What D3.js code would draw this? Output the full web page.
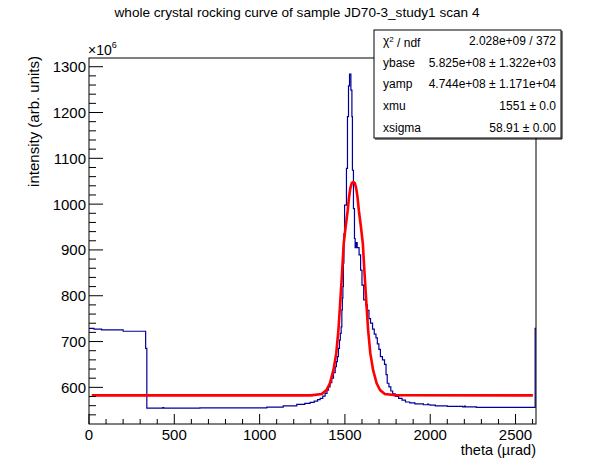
<!DOCTYPE html>
<html>
<meta charset="utf-8">
<head>
    <script src="https://d3js.org/d3.v7.min.js"></script>
    <style>
        body { margin: 0; background: #fff; }
        text { font-family: "Liberation Sans", Arial, Helvetica, sans-serif; }
    </style>
</head>
<body>
    <script>
        // histogram bins: lower edge and content (x1e6)
        var histX = [0, 29, 74, 200, 332, 339, 432, 438, 650, 1042, 1138, 1218, 1265, 1296, 1320, 1340, 1355, 1370,
                     1384, 1395, 1404, 1413, 1423, 1433, 1443, 1450, 1456, 1462, 1468, 1473, 1478, 1482, 1485,
                     1488, 1491, 1494, 1498, 1509, 1515, 1521, 1527, 1535, 1541, 1544, 1550, 1556, 1560, 1566,
                     1572, 1583, 1592, 1600, 1610, 1622, 1632, 1641, 1650, 1662, 1672, 1682, 1690, 1699, 1708,
                     1720, 1732, 1741, 1748, 1758, 1769, 1780, 1795, 1815, 1835, 1855, 1880, 1910, 1960, 1985,
                     1990, 2000, 2030, 2100, 2190, 2200, 2206, 2270, 2615];
        var histY = [728.8, 727, 725.5, 722.5, 685, 554.5, 556, 554.5, 555, 557, 559.5, 563, 565, 567, 570, 573, 576, 581,
                     587, 594, 601, 610, 620, 632, 645, 656, 667, 685, 703, 718, 732, 769, 795,
                     820, 871, 935, 998, 1078, 1191, 1258, 1284, 1249, 1191, 1074, 990, 925, 905, 916,
                     905, 889, 856, 823, 791, 780, 768, 750, 740, 727, 716, 708, 695, 683, 667,
                     660, 650, 628, 609, 601, 592, 586, 580, 576, 572, 568, 566, 564, 562, 563.5,
                     562, 561, 559.5, 558.5, 557.5, 559, 557.5, 556.3, 729];
        var histEnd = 2620;

        // fitted curve
        var fitX = [16, 1300, 1364, 1392, 1412, 1433, 1449, 1462, 1472, 1483, 1493, 1504, 1516, 1524, 1532, 1540,
                    1549, 1558, 1566, 1574, 1582, 1594, 1605, 1615, 1626, 1636, 1649, 1665, 1686, 1706, 1734, 1800, 2602];
        var fitY = [582.5, 582.5, 585.5, 594, 609, 638, 674, 725, 783, 849, 914, 950, 985, 1015, 1035, 1046,
                    1048, 1046, 1035, 1015, 985, 950, 914, 849, 783, 725, 674, 638, 609, 594, 585.5, 582.7, 582.5];

        var yTicks = [600, 700, 800, 900, 1000, 1100, 1200, 1300];
        var xTicks = [0, 500, 1000, 1500, 2000, 2500];

        var statNames = ["χ2 / ndf", "ybase", "yamp", "xmu", "xsigma"];
        var statValues = ["2.028e+09 / 372", "5.825e+08 ± 1.322e+03", "4.744e+08 ± 1.171e+04", "1551 ± 0.0", "58.91 ± 0.00"];

        var width = 596,
            height = 472,
            fl = 89, fr = 536, ft = 58, fb = 424;

        var svg = d3.select("body").append("svg")
            .attr("width", width)
            .attr("height", height);

        var x = d3.scaleLinear().domain([0, 2620]).range([fl, fr]);
        var y = d3.scaleLinear().domain([520, 1319]).range([fb, ft]);

        svg.append("defs").append("clipPath").attr("id", "frame")
            .append("rect").attr("x", fl).attr("y", ft)
            .attr("width", fr - fl).attr("height", fb - ft);

        // histogram
        var hist = histX.map(function(d, i) { return [d, histY[i]]; });
        hist.push([histEnd, histY[histY.length - 1]]);
        var line = d3.line().x(function(d) { return x(d[0]); }).y(function(d) { return y(d[1]); });

        svg.append("path")
            .attr("clip-path", "url(#frame)")
            .attr("d", line.curve(d3.curveStepAfter)(hist))
            .attr("fill", "none")
            .attr("stroke", "#000099")
            .attr("stroke-width", 1.2);

        // fit
        var fit = fitX.map(function(d, i) { return [d, fitY[i]]; });
        svg.append("path")
            .attr("clip-path", "url(#frame)")
            .attr("d", d3.line().x(function(d) { return x(d[0]); }).y(function(d) { return y(d[1]); })(fit))
            .attr("fill", "none")
            .attr("stroke", "#ff0000")
            .attr("stroke-width", 2.6);

        // frame
        svg.append("rect")
            .attr("x", fl).attr("y", ft)
            .attr("width", fr - fl).attr("height", fb - ft)
            .attr("fill", "none").attr("stroke", "#000").attr("stroke-width", 1);

        // axes
        var yAxis = svg.append("g").attr("transform", "translate(" + fl + ",0)");
        var yMinor = d3.range(540, 1320, 20).filter(function(v) { return v % 100 != 0; });
        yAxis.selectAll(".minor").data(yMinor).enter().append("line")
            .attr("x1", 0).attr("x2", 7)
            .attr("y1", function(d) { return y(d); }).attr("y2", function(d) { return y(d); })
            .attr("stroke", "#000");
        yAxis.selectAll(".major").data(yTicks).enter().append("line")
            .attr("x1", 0).attr("x2", 14)
            .attr("y1", function(d) { return y(d); }).attr("y2", function(d) { return y(d); })
            .attr("stroke", "#000");
        yAxis.selectAll(".lab").data(yTicks).enter().append("text")
            .attr("x", -3).attr("y", function(d) { return y(d); })
            .attr("dy", "0.36em")
            .attr("text-anchor", "end")
            .attr("font-size", 15)
            .text(function(d) { return d; });

        var xAxis = svg.append("g").attr("transform", "translate(0," + fb + ")");
        var xMinor = d3.range(100, 2620, 100).filter(function(v) { return v % 500 != 0; });
        xAxis.selectAll(".minor").data(xMinor).enter().append("line")
            .attr("x1", function(d) { return x(d); }).attr("x2", function(d) { return x(d); })
            .attr("y1", 0).attr("y2", -5)
            .attr("stroke", "#000");
        xAxis.selectAll(".major").data(xTicks).enter().append("line")
            .attr("x1", function(d) { return x(d); }).attr("x2", function(d) { return x(d); })
            .attr("y1", 0).attr("y2", -10)
            .attr("stroke", "#000");
        xAxis.selectAll(".lab").data(xTicks).enter().append("text")
            .attr("x", function(d) { return x(d); }).attr("y", 16)
            .attr("text-anchor", "middle")
            .attr("font-size", 15)
            .text(function(d) { return d; });

        // exponent
        var ex = svg.append("text").attr("x", fl - 1).attr("y", 55).attr("font-size", 14);
        ex.append("tspan").text("×10");
        ex.append("tspan").attr("dy", -7).attr("font-size", 9).text("6");

        // titles
        svg.append("text")
            .attr("x", 297).attr("y", 17)
            .attr("text-anchor", "middle")
            .attr("font-size", 13.6)
            .text("whole crystal rocking curve of sample JD70-3_study1 scan 4");

        svg.append("text")
            .attr("transform", "translate(39," + (ft - 2) + ") rotate(-90)")
            .attr("text-anchor", "end")
            .attr("font-size", 15)
            .text("intensity (arb. units)");

        svg.append("text")
            .attr("x", fr).attr("y", 455)
            .attr("text-anchor", "end")
            .attr("font-size", 14.5)
            .text("theta (µrad)");

        // stats box
        var bx = 374, by = 30, bw = 187, bh = 108, rh = bh / statNames.length;
        svg.append("rect")
            .attr("x", bx).attr("y", by).attr("width", bw).attr("height", bh)
            .attr("fill", "#fff").attr("stroke", "#000").attr("stroke-width", 1);
        svg.append("line")
            .attr("x1", bx + 1).attr("x2", bx + bw + 1).attr("y1", by + bh + 1).attr("y2", by + bh + 1)
            .attr("stroke", "#000");
        svg.append("line")
            .attr("x1", bx + bw + 1).attr("x2", bx + bw + 1).attr("y1", by + 1).attr("y2", by + bh + 1)
            .attr("stroke", "#000");

        statNames.forEach(function(n, i) {
            var t = svg.append("text")
                .attr("x", bx + 9).attr("y", by + rh * (i + 0.5))
                .attr("dy", "0.36em")
                .attr("font-size", 12);
            if (i == 0) {
                t.append("tspan").text("χ");
                t.append("tspan").attr("dy", "-0.45em").attr("font-size", 8).text("2");
                t.append("tspan").attr("dy", "0.45em").text(" / ndf");
            } else {
                t.text(n);
            }
            svg.append("text")
                .attr("x", bx + bw - 5).attr("y", by + rh * (i + 0.5))
                .attr("dy", "0.36em")
                .attr("text-anchor", "end")
                .attr("font-size", 12)
                .text(statValues[i]);
        });
    </script>
</body>
</html>
